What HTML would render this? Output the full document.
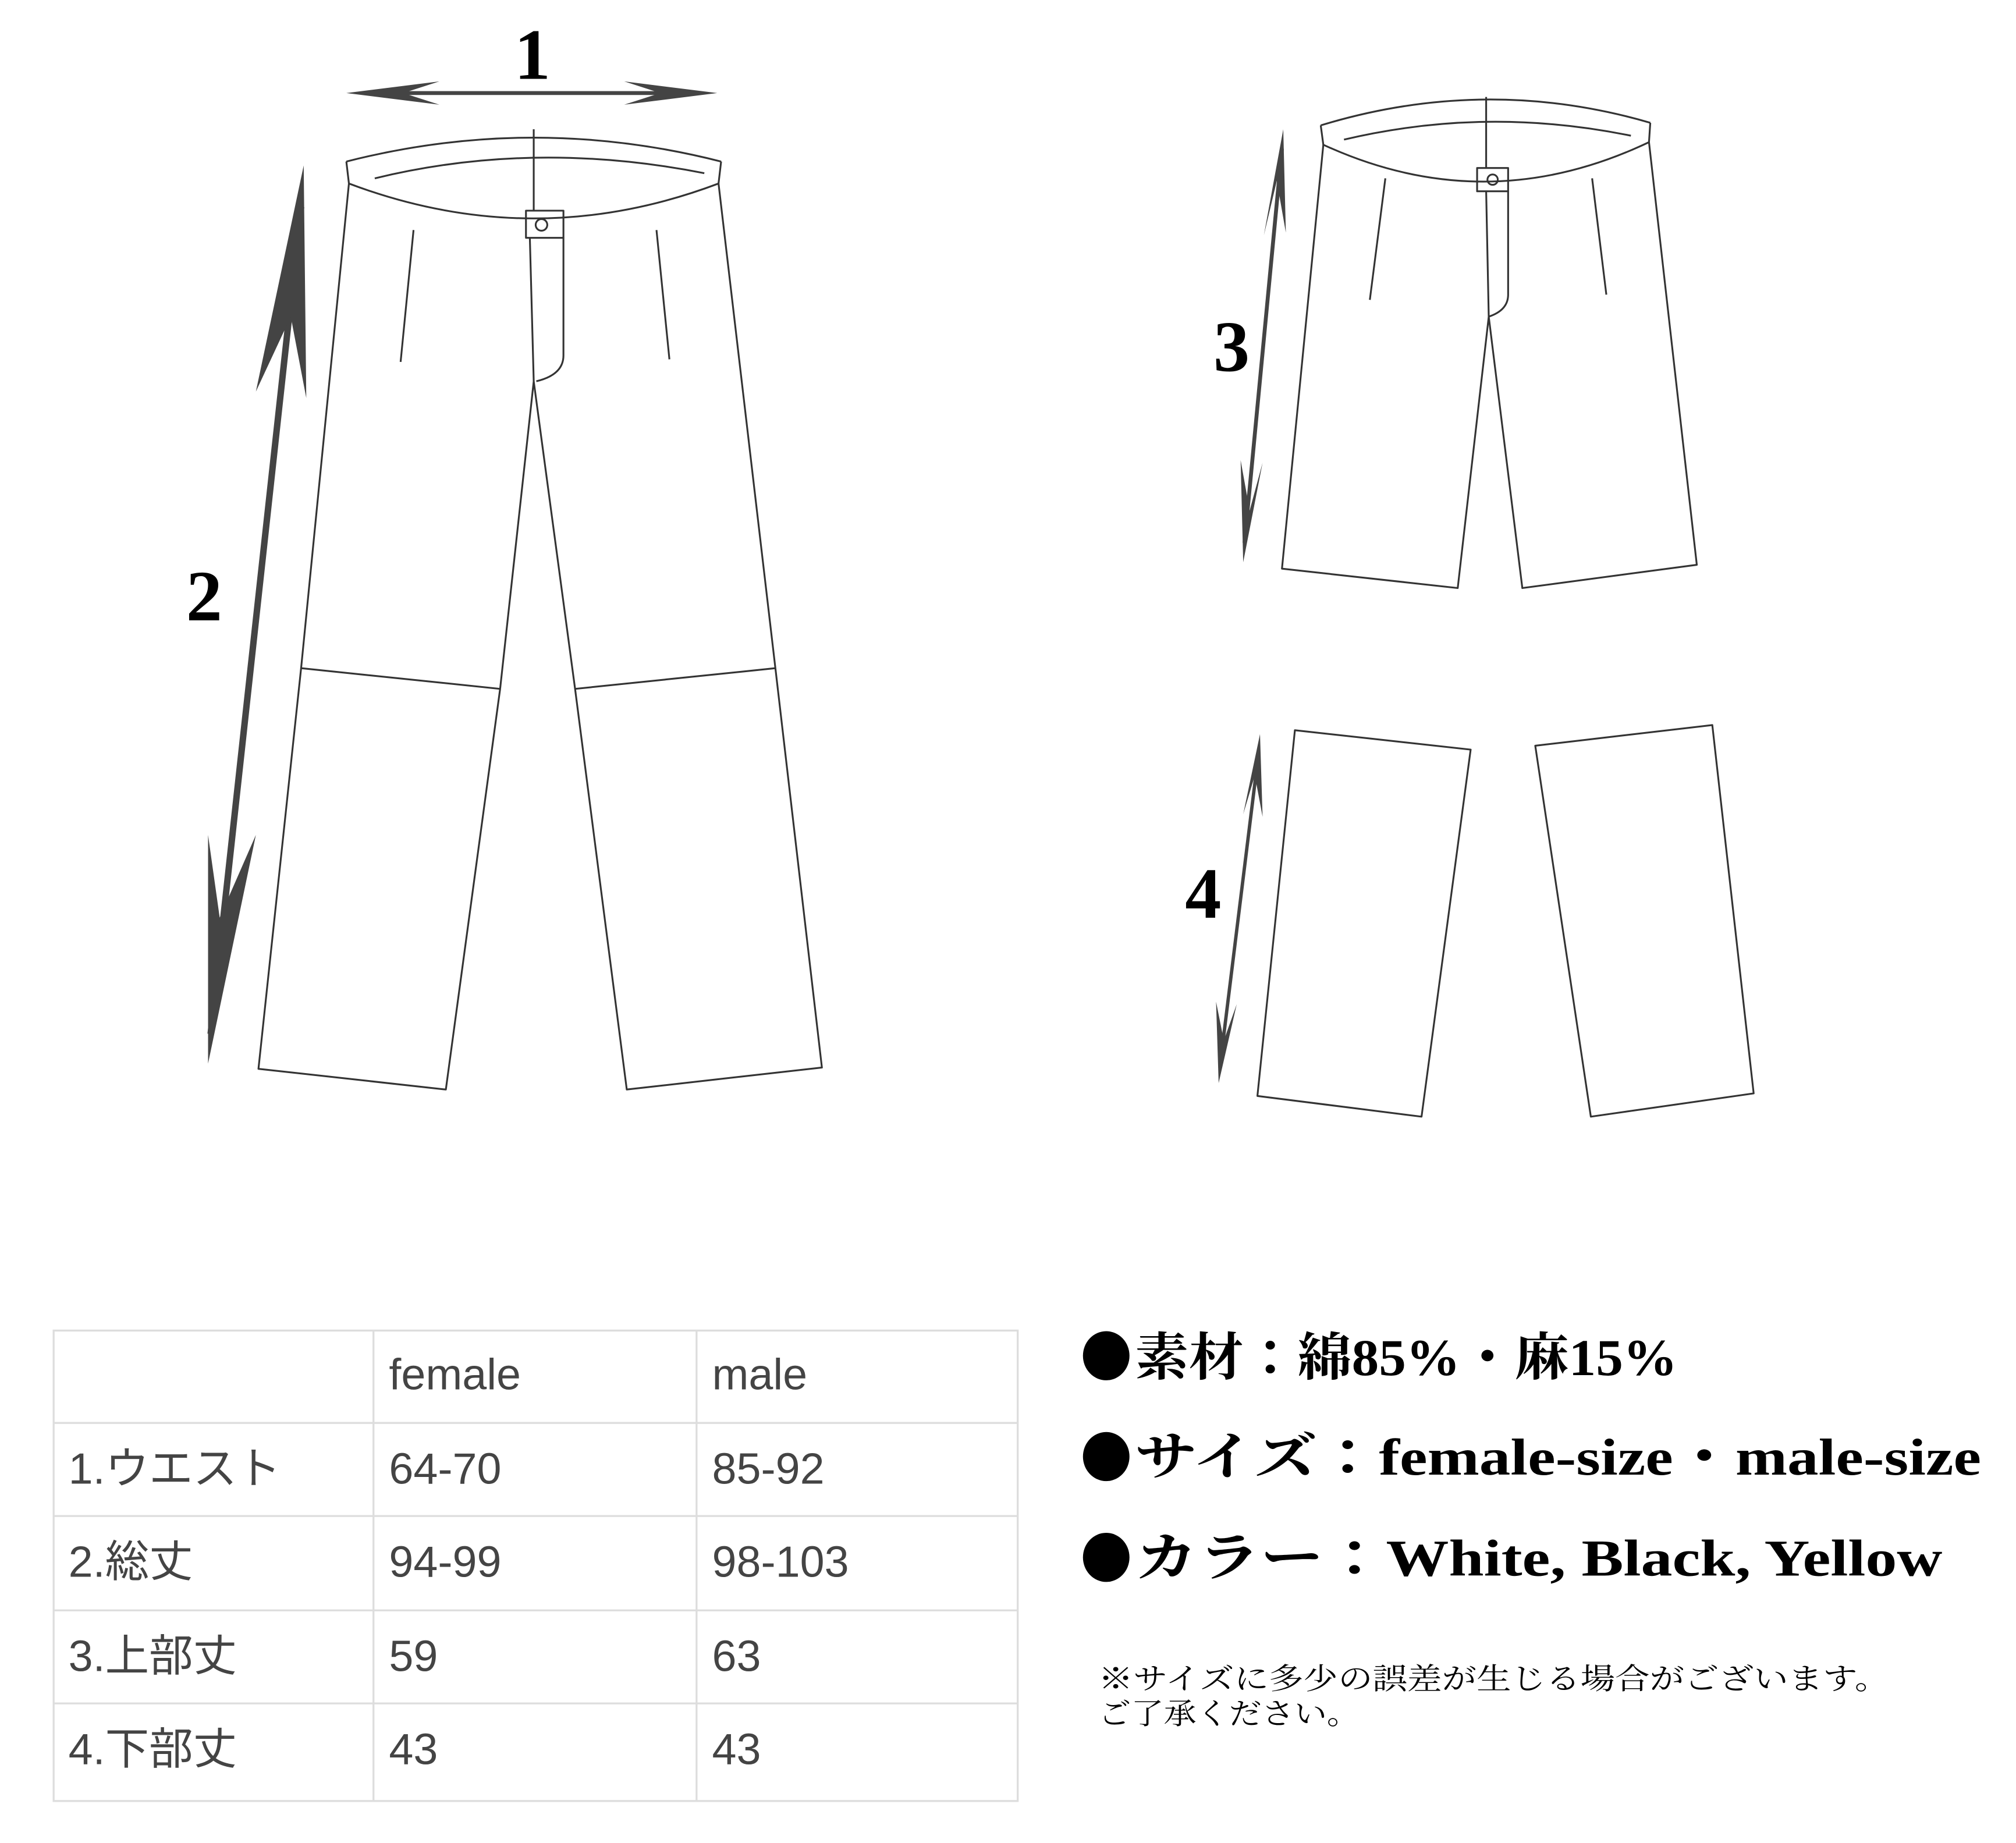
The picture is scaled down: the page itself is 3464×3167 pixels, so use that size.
<!DOCTYPE html>
<html><head><meta charset="utf-8"><style>html,body{margin:0;padding:0;background:#fff}svg{display:block}</style></head>
<body>
<svg width="3464" height="3167" viewBox="0 0 1560 1426" preserveAspectRatio="none" xmlns="http://www.w3.org/2000/svg">
<rect width="1560" height="1426" fill="#fff"/>
<g fill="none" stroke="#333" stroke-width="1.4" stroke-linejoin="round">
<path d="M268,125 Q413,88 558,125"/>
<path d="M290,138 Q413,108 545,134"/>
<path d="M268,125 L270,142 Q413,196 556,142 L558,125"/>
<line x1="413" y1="100" x2="413" y2="163"/>
<rect x="407" y="163" width="29" height="21"/>
<circle cx="419" cy="174" r="4.5"/>
<path d="M410,184 L413,295"/>
<path d="M436,184 L436,275 Q436,290 415,295"/>
<line x1="320" y1="178" x2="310" y2="280"/>
<line x1="508" y1="178" x2="518" y2="278"/>
<path d="M270,142 L233,517 L200,827 L345,843 L387,533 L413,295 L445,533 L485,843 L636,826 L600,517 L556,142"/>
<path d="M233,517 L387,533"/>
<path d="M445,533 L600,517"/>
<path d="M1022,97 Q1150,58 1277,95"/>
<path d="M1040,108 Q1150,82 1262,105"/>
<path d="M1022,97 L1024,112 Q1150,170 1276,110 L1277,95"/>
<line x1="1150" y1="75" x2="1150" y2="130"/>
<rect x="1143" y="130" width="24" height="18"/>
<circle cx="1155" cy="139" r="4"/>
<path d="M1150,148 L1152,245"/>
<path d="M1167,148 L1167,228 Q1167,240 1152,245"/>
<line x1="1072" y1="138" x2="1060" y2="232"/>
<line x1="1232" y1="138" x2="1243" y2="228"/>
<path d="M1024,112 L992,440 L1128,455 L1152,245 L1178,455 L1313,437 L1276,110"/>
<path d="M1002,565 L1138,580 L1100,864 L973,848 Z"/>
<path d="M1188,577 L1325,561 L1357,846 L1231,864 Z"/>
</g>
<g fill="#444" stroke="none">
<rect x="290" y="70.5" width="245" height="3"/>
<polygon points="268,72 340,63 312,72 340,81"/>
<polygon points="555,72 483,63 511,72 483,81"/>
</g>
<g fill="#444">
<line x1="233" y1="160" x2="163" y2="800" stroke="#444" stroke-width="5"/>
<polygon points="235,128 237,308 225,245 198,303"/>
<polygon points="161,823 161,646 170,710 198,646"/>
</g>
<g fill="#444">
<line x1="992" y1="115" x2="963" y2="420" stroke="#444" stroke-width="3"/>
<polygon points="993,100 995,180 988,140 978,182"/>
<polygon points="962,435 960,356 967,395 977,358"/>
</g>
<g fill="#444">
<line x1="974" y1="582" x2="944" y2="825" stroke="#444" stroke-width="2.6"/>
<polygon points="975,568 977,632 971,600 962,630"/>
<polygon points="943,838 941,775 947,805 957,777"/>
</g>
<g font-family="'Liberation Serif','Noto Serif CJK SC',serif" font-weight="bold" fill="#000" font-size="56" text-anchor="middle">
<text x="412" y="61">1</text>
<text x="158" y="480">2</text>
<text x="953" y="287">3</text>
<text x="931" y="710">4</text>
</g>
<g stroke="#ddd" stroke-width="1.5" fill="none">
<rect x="41.5" y="1029.5" width="746" height="364"/>
<line x1="289" y1="1029" x2="289" y2="1394"/>
<line x1="539" y1="1029" x2="539" y2="1394"/>
<line x1="41" y1="1101" x2="788" y2="1101"/>
<line x1="41" y1="1173" x2="788" y2="1173"/>
<line x1="41" y1="1246" x2="788" y2="1246"/>
<line x1="41" y1="1318" x2="788" y2="1318"/>
</g>
<g font-family="'Liberation Sans','Noto Sans CJK JP',sans-serif" font-size="34" fill="#444">
<text x="301" y="1075">female</text><text x="551" y="1075">male</text>
<text x="53" y="1148">1.ウエスト</text><text x="301" y="1148">64-70</text><text x="551" y="1148">85-92</text>
<text x="53" y="1220">2.総丈</text><text x="301" y="1220">94-99</text><text x="551" y="1220">98-103</text>
<text x="53" y="1293">3.上部丈</text><text x="301" y="1293">59</text><text x="551" y="1293">63</text>
<text x="53" y="1365">4.下部丈</text><text x="301" y="1365">43</text><text x="551" y="1365">43</text>
</g>
<g fill="#000">
<ellipse cx="856" cy="1049" rx="18" ry="19"/>
<ellipse cx="856" cy="1127" rx="18" ry="19"/>
<ellipse cx="856" cy="1205" rx="18" ry="19"/>
</g>
<g font-family="'Liberation Serif','Noto Serif CJK JP','Noto Serif CJK SC',serif" fill="#000">
<text x="878" y="1064" font-size="40" font-weight="bold" textLength="420" lengthAdjust="spacingAndGlyphs">素材：綿85%・麻15%</text>
<text x="878" y="1141" font-size="40" font-weight="bold" textLength="655" lengthAdjust="spacingAndGlyphs">サイズ：female-size・male-size</text>
<text x="878" y="1219" font-size="40" font-weight="bold" textLength="625" lengthAdjust="spacingAndGlyphs">カラー：White, Black, Yellow</text>
<text x="850" y="1307" font-size="23" textLength="612" lengthAdjust="spacingAndGlyphs">※サイズに多少の誤差が生じる場合がございます。</text>
<text x="850" y="1334" font-size="23" textLength="202" lengthAdjust="spacingAndGlyphs">ご了承ください。</text>
</g>
</svg>
</body></html>
